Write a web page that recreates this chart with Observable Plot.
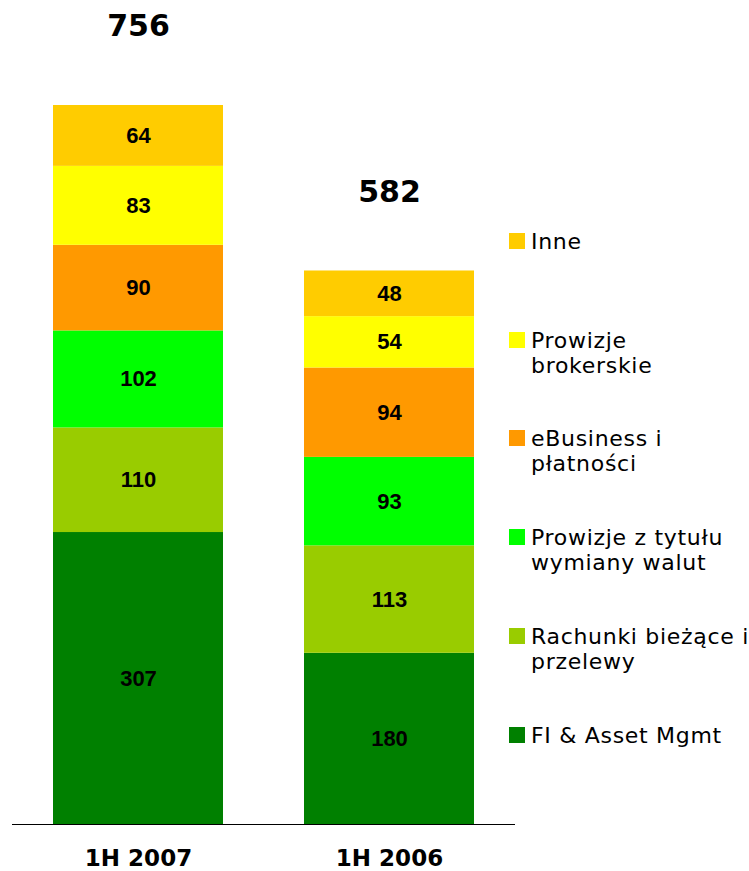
<!DOCTYPE html>
<html>
<head>
<meta charset="utf-8">
<script src="https://cdn.jsdelivr.net/npm/d3@7"></script>
<script src="https://cdn.jsdelivr.net/npm/@observablehq/plot@0.6"></script>
<style>
  body { margin: 0; background: #fff; }
  #wrap { position: relative; width: 749px; height: 871px; overflow: hidden; }
  #wrap svg { position: absolute; left: 0; top: 0; }
  .lg-sq { position: absolute; width: 16px; height: 16px; }
  .lg-tx { position: absolute; font-family: "DejaVu Sans", Verdana, sans-serif; font-size: 22px; line-height: 25px; letter-spacing: 0.7px; color: #000; white-space: nowrap; }
</style>
</head>
<body>
<div id="wrap"></div>
<script>
const categories = ["1H 2007", "1H 2006"];
const series = ["FI & Asset Mgmt", "Rachunki bieżące i przelewy", "Prowizje z tytułu wymiany walut", "eBusiness i płatności", "Prowizje brokerskie", "Inne"];
const values2007 = [307, 110, 102, 90, 83, 64];
const values2006 = [180, 113, 93, 94, 54, 48];
const totals = [756, 582];
const colors = ["#008000", "#99CC00", "#00FF00", "#FF9900", "#FFFF00", "#FFCC00"];
// legend, top to bottom, with line breaks as in the reference
const legendOrder = ["Inne", "Prowizje brokerskie", "eBusiness i płatności", "Prowizje z tytułu wymiany walut", "Rachunki bieżące i przelewy", "FI & Asset Mgmt"];
const legendLines = [["Inne"], ["Prowizje", "brokerskie"], ["eBusiness i", "płatności"], ["Prowizje z tytułu", "wymiany walut"], ["Rachunki bieżące i", "przelewy"], ["FI & Asset Mgmt"]];

const data = [];
series.forEach((s, i) => {
  data.push({cat: categories[0], series: s, value: values2007[i]});
  data.push({cat: categories[1], series: s, value: values2006[i]});
});
const totalsData = categories.map((c, i) => ({cat: c, total: totals[i]}));

const chart = Plot.plot({
  width: 749,
  height: 871,
  marginLeft: 12,
  marginRight: 234,
  marginTop: 105,
  marginBottom: 47,
  x: {domain: categories, paddingInner: 0.324, paddingOuter: 0.163, axis: null},
  y: {domain: [0, 756], axis: null},
  color: {domain: series, range: colors},
  marks: [
    Plot.barY(data, {x: "cat", y: "value", fill: "series", order: series}),
    Plot.text(data, Plot.stackY({
      x: "cat", y: "value", z: "series", order: series,
      text: d => String(d.value),
      fill: "black", fontSize: 22, fontWeight: "bold",
      fontFamily: "'Liberation Sans', Arial, sans-serif"
    })),
    Plot.ruleY([0], {stroke: "black", strokeWidth: 1.2}),
    Plot.text(totalsData, {
      x: "cat", y: "total", text: d => String(d.total), dy: -79,
      fontSize: 30, fontWeight: "bold", fill: "black",
      fontFamily: "'DejaVu Sans', Verdana, sans-serif"
    }),
    Plot.text(totalsData, {
      x: "cat", y: () => 0, text: "cat", dy: 34,
      fontSize: 23, fontWeight: "bold", fill: "black",
      fontFamily: "'DejaVu Sans', Verdana, sans-serif"
    })
  ]
});
const wrap = document.getElementById("wrap");
wrap.appendChild(chart);

// legend (HTML)
const legendTops = [233, 332, 430, 529, 628, 727];
legendOrder.forEach((name, i) => {
  const sq = document.createElement("div");
  sq.className = "lg-sq";
  sq.style.left = "509px";
  sq.style.top = legendTops[i] + "px";
  sq.style.background = colors[series.indexOf(name)];
  wrap.appendChild(sq);
  const tx = document.createElement("div");
  tx.className = "lg-tx";
  tx.style.left = "531px";
  tx.style.top = (legendTops[i] - 4) + "px";
  tx.innerHTML = legendLines[i].map(l => l.replace(/&/g, "&amp;")).join("<br>");
  wrap.appendChild(tx);
});
</script>
</body>
</html>
